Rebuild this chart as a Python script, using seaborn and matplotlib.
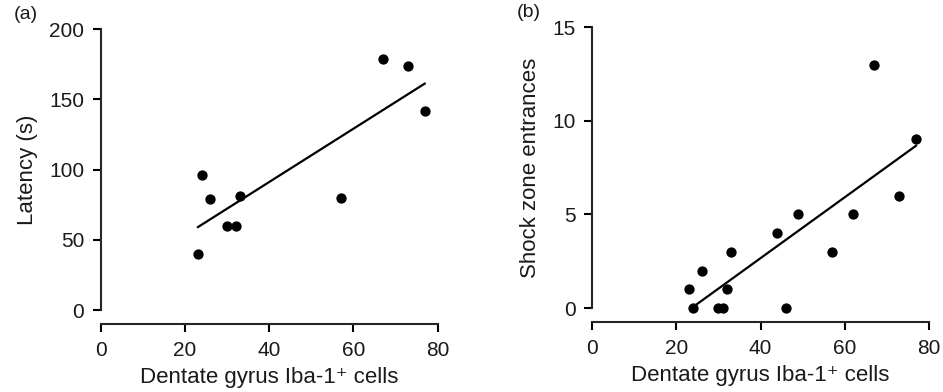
import pandas as pd
import matplotlib
matplotlib.use("Agg")
import matplotlib.pyplot as plt
import seaborn as sns

# --- data ---
# (a) latency vs. dentate gyrus Iba-1+ cells
iba_a = [23, 24, 26, 30, 32, 33, 57, 67, 73, 77]
latency = [40, 96, 79, 60, 60, 81, 80, 179, 174, 142]

# (b) shock zone entrances vs. dentate gyrus Iba-1+ cells
iba_b = [23, 24, 26, 30, 31, 32, 33, 44, 46, 49, 57, 62, 67, 73, 77]
entrances = [1, 0, 2, 0, 0, 1, 3, 4, 0, 5, 3, 5, 13, 6, 9]

x_ticks = [0, 20, 40, 60, 80]
xlabel = "Dentate gyrus Iba-1\u207a cells"

df_a = pd.DataFrame({"iba": iba_a, "latency": latency})
df_b = pd.DataFrame({"iba": iba_b, "entrances": entrances})

sns.set_theme(style="ticks")
plt.rcParams["font.family"] = ["Liberation Sans", "DejaVu Sans"]
plt.rcParams["axes.linewidth"] = 1.5
plt.rcParams["xtick.major.width"] = 1.5
plt.rcParams["ytick.major.width"] = 1.5
plt.rcParams["xtick.major.size"] = 6
plt.rcParams["ytick.major.size"] = 6

fig = plt.figure(figsize=(9.43, 3.92), dpi=100)
ax1 = fig.add_axes([0.107, 0.209, 0.357, 0.717])
ax2 = fig.add_axes([0.628, 0.214, 0.357, 0.717])

text_col = "#1a1a1a"
# ax, data, y column, y label, y limits, y ticks, panel tag, tag x position (axes coords)
panels = [
    (ax1, df_a, "latency", "Latency (s)", (0, 200), [0, 50, 100, 150, 200], "(a)", -0.26),
    (ax2, df_b, "entrances", "Shock zone entrances", (0, 15), [0, 5, 10, 15], "(b)", -0.225),
]

for ax, df, ycol, ylabel, ylim, yticks, tag, tag_x in panels:
    sns.regplot(data=df, x="iba", y=ycol, ax=ax, ci=None, truncate=True,
                color="black",
                scatter_kws={"s": 55, "alpha": 1, "linewidths": 0,
                             "zorder": 3, "clip_on": False},
                line_kws={"linewidth": 1.6})
    ax.set_xlim(0, 80)
    ax.set_ylim(*ylim)
    ax.set_xticks(x_ticks)
    ax.set_yticks(yticks)
    ax.tick_params(labelsize=15, colors="black", labelcolor=text_col, pad=6)
    ax.set_xlabel(xlabel, fontsize=16, labelpad=5, color=text_col)
    ax.set_ylabel(ylabel, fontsize=16, labelpad=8, color=text_col)
    sns.despine(ax=ax)
    ax.spines["bottom"].set_position(("outward", 10))
    ax.text(tag_x, 1.05, tag, transform=ax.transAxes, fontsize=14,
            ha="left", va="center", color=text_col)

fig.savefig("out.png", dpi=100)
